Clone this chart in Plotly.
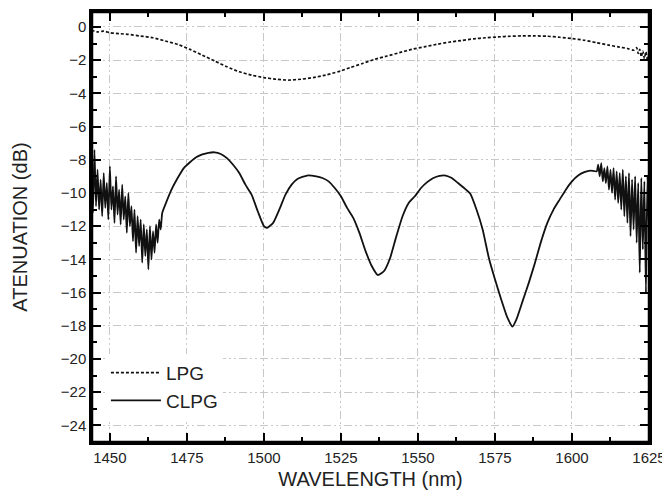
import plotly.graph_objects as go

# LPG (dashed) spectrum
lpg_wl = [1444, 1446, 1448, 1450, 1453, 1456, 1460, 1464, 1468, 1472, 1476, 1480, 1484, 1488,
          1492, 1496, 1500, 1504, 1508, 1512, 1516, 1520, 1524, 1528, 1532, 1536, 1540, 1544,
          1548, 1552, 1556, 1560, 1564, 1568, 1572, 1576, 1580, 1584, 1588, 1592, 1596, 1600,
          1604, 1608, 1612, 1615, 1618, 1620, 1621, 1621.5, 1622, 1622.5, 1623, 1623.5, 1624,
          1624.5, 1625]
lpg_db = [-0.2, -0.3, -0.25, -0.35, -0.4, -0.45, -0.55, -0.65, -0.85, -1.05, -1.35, -1.7, -2.05, -2.4,
          -2.7, -2.9, -3.05, -3.15, -3.2, -3.15, -3.05, -2.9, -2.7, -2.45, -2.2, -1.95, -1.75, -1.55,
          -1.35, -1.2, -1.05, -0.92, -0.82, -0.72, -0.65, -0.6, -0.56, -0.54, -0.54, -0.56, -0.62, -0.7,
          -0.8, -0.95, -1.1, -1.2, -1.3, -1.4, -1.25, -1.6, -1.35, -1.8, -1.45, -1.9, -1.5,
          -2.0, -1.6]

# CLPG (solid) spectrum
clpg_wl = [1444.0, 1444.5, 1445.0, 1445.5, 1446.0, 1446.5, 1447.0, 1447.5, 1448.0, 1448.5,
           1449.0, 1449.5, 1450.0, 1450.5, 1451.0, 1451.5, 1452.0, 1452.5, 1453.0, 1453.5,
           1454.0, 1454.5, 1455.0, 1455.5, 1456.0, 1456.5, 1457.0, 1457.5, 1458.0, 1458.5,
           1459.0, 1459.5, 1460.0, 1460.5, 1461.0, 1461.5, 1462.0, 1462.5, 1463.0, 1463.5,
           1464.0, 1464.5, 1465.0, 1465.5, 1466.0, 1466.5, 1467.0,
           1468, 1470, 1472, 1474, 1476, 1478, 1480, 1482, 1484, 1486, 1488, 1490, 1492, 1494,
           1496, 1498, 1500, 1501, 1503, 1505, 1507, 1509, 1511, 1514, 1517, 1519, 1521, 1523,
           1525, 1527, 1529, 1531, 1533, 1535, 1537, 1539, 1541, 1543, 1545, 1547, 1549, 1551,
           1553, 1555, 1557, 1559, 1561, 1563, 1565, 1567, 1569, 1571, 1573, 1575, 1577, 1579,
           1580.7, 1582, 1584, 1586, 1588, 1590, 1592, 1594, 1596, 1598, 1600, 1602, 1604, 1606,
           1608.0, 1608.5, 1609.0, 1609.5, 1610.0, 1610.5, 1611.0, 1611.5, 1612.0, 1612.5,
           1613.0, 1613.5, 1614.0, 1614.5, 1615.0, 1615.5, 1616.0, 1616.5, 1617.0, 1617.5,
           1618.0, 1618.5, 1619.0, 1619.5, 1620.0, 1620.5, 1621.0, 1621.5, 1622.0, 1622.5,
           1623.0, 1623.5, 1624.0, 1624.5, 1625.0]
clpg_db = [-9.0, -11.2, -7.4, -10.8, -8.6, -11.0, -9.2, -11.4, -8.8, -10.9,
           -9.4, -11.6, -8.4, -11.0, -9.6, -11.8, -9.0, -11.3, -9.8, -11.9,
           -9.5, -11.6, -10.2, -12.4, -10.0, -12.0, -10.8, -12.9, -11.0, -13.6,
           -11.4, -13.2, -11.6, -14.2, -11.9, -13.8, -12.2, -14.6, -12.0, -14.0,
           -12.3, -13.6, -11.9, -13.0, -11.6, -12.2, -11.2,
           -10.7, -9.8, -9.1, -8.5, -8.15, -7.85, -7.68, -7.58, -7.55, -7.65, -7.9, -8.3, -8.8, -9.5,
           -10.1, -11.1, -12.0, -12.1, -11.8, -11.0, -10.1, -9.5, -9.15, -8.95, -9.0, -9.1, -9.3, -9.7,
           -10.2, -10.9, -11.5, -12.4, -13.5, -14.4, -14.95, -14.7, -13.9, -12.6, -11.4, -10.6, -10.2, -9.7,
           -9.35, -9.1, -8.97, -8.95, -9.1, -9.4, -9.7, -10.05, -11.0, -12.2, -13.9, -15.2, -16.4, -17.5,
           -18.05, -17.6, -16.5, -15.4, -14.2, -12.9, -11.8, -11.0, -10.4, -9.8, -9.3, -8.95, -8.75, -8.65,
           -8.7, -8.3, -9.0, -8.2, -9.3, -8.5, -9.4, -8.4, -9.8, -8.6,
           -10.0, -8.5, -10.4, -8.7, -10.6, -8.8, -11.0, -8.6, -11.4, -9.0,
           -11.8, -8.8, -12.6, -9.2, -12.2, -9.0, -13.0, -9.4, -14.8, -9.1,
           -13.4, -9.3, -16.0, -9.0, -12.0]

x_tick_start, x_tick_step = 1450, 25
y_tick_start, y_tick_step = 0, 2

FONT = "Arial, Liberation Sans, sans-serif"
GRID_DASH = "8px,3px,2px,3px,2px,3px"

fig = go.Figure()
fig.add_trace(go.Scatter(x=lpg_wl, y=lpg_db, mode="lines", name="LPG",
                         line=dict(color="#111", width=1.7, dash="3px,2px", shape="spline", smoothing=0.6)))
fig.add_trace(go.Scatter(x=clpg_wl, y=clpg_db, mode="lines", name="CLPG",
                         line=dict(color="#111", width=1.8, shape="spline", smoothing=0.5)))

axis_common = dict(
    showline=True, linecolor="#000000", linewidth=2.5, mirror="allticks", layer="above traces",
    ticks="inside", ticklen=9, tickwidth=2, tickcolor="#000000",
    showgrid=True, gridcolor="#c8c8c8", gridwidth=1.3, griddash=GRID_DASH,
    zeroline=False, automargin=False, tickmode="linear",
    tickfont=dict(family=FONT, size=15, color="#222"),
)

fig.update_xaxes(**axis_common, range=[1444.2, 1625], tick0=x_tick_start, dtick=x_tick_step,
                 minor=dict(dtick=12.5, tick0=1450, ticks="inside", ticklen=5, tickwidth=2, tickcolor="#000000", showgrid=False),
                 title=dict(text="WAVELENGTH (nm)", font=dict(family=FONT, size=20, color="#222"), standoff=8))
fig.update_yaxes(**axis_common, range=[-25, 0.9], tick0=y_tick_start, dtick=y_tick_step,
                 minor=dict(dtick=1, tick0=0, ticks="inside", ticklen=5, tickwidth=2, tickcolor="#000000", showgrid=False),
                 title=dict(text="ATENUATION (dB)", font=dict(family=FONT, size=20, color="#222"), standoff=28))

# plot-area frame
fig.add_shape(type="rect", xref="paper", yref="paper", x0=0, x1=1, y0=0, y1=1,
              line=dict(color="#000000", width=2.5), layer="above")

# the page body adds an 8px offset, so the figure is made 8px smaller with margins shifted
fig.update_layout(
    width=662, height=491,
    margin=dict(l=84, r=21, t=4, b=57),
    plot_bgcolor="white", paper_bgcolor="white",
    showlegend=True,
    legend=dict(x=0.025, y=0.205, xanchor="left", yanchor="top", bgcolor="white",
                font=dict(family=FONT, size=19, color="#222"), itemwidth=50,
                tracegroupgap=0),
)
fig.write_html("out.html")
